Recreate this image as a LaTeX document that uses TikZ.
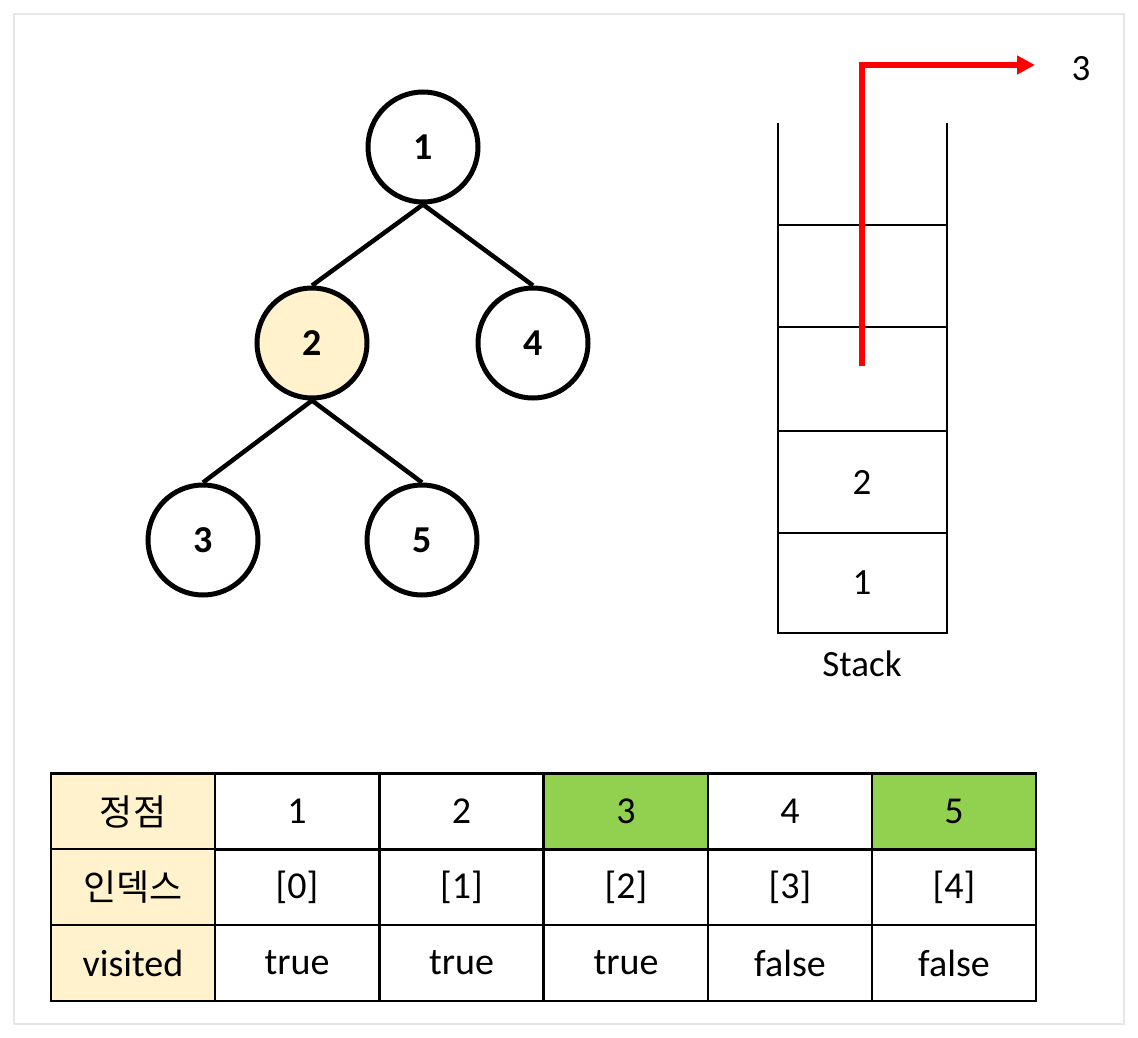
\documentclass[tikz,border=0pt]{standalone}
\usepackage{fontspec}
\setmainfont{Carlito}
\newfontfamily\krfont{Noto Sans CJK KR}
\usetikzlibrary{arrows.meta}
\definecolor{paleyel}{HTML}{FFF2CC}
\definecolor{cellgreen}{HTML}{92D050}
\definecolor{arrowred}{HTML}{FF0000}
\definecolor{cardedge}{HTML}{E6E6E6}
\tikzset{
  vert/.style={circle,draw=black,line width=5pt,fill=white,minimum size=110pt,inner sep=0pt,font=\fontsize{38}{42}\selectfont\bfseries},
  edge/.style={line width=4.5pt,black},
  cell/.style={rectangle,draw=black,line width=2.5pt,minimum width=164.3pt,minimum height=75.7pt,inner sep=0pt,font=\fontsize{38}{42}\selectfont},
  hcell/.style={cell,fill=paleyel},
  gcell/.style={cell,fill=cellgreen},
  stk/.style={line width=2pt,black},
  lbl/.style={inner sep=0pt,font=\fontsize{37}{41}\selectfont},
}
\begin{document}
\begin{tikzpicture}[x=1pt,y=-1pt]
\useasboundingbox (0,0) rectangle (1138,1038);
\fill[white] (0,0) rectangle (1138,1038);
\draw[cardedge,line width=2.5pt,fill=white] (14,14) rectangle (1124,1024);

% tree
\node[vert] (n1) at (423,147) {1};
\node[vert,fill=paleyel] (n2) at (312,343) {2};
\node[vert] (n4) at (533,343) {4};
\node[vert] (n3) at (203,540) {3};
\node[vert] (n5) at (422,540) {5};
\draw[edge] (n1.south) -- (n2.north);
\draw[edge] (n1.south) -- (n4.north);
\draw[edge] (n2.south) -- (n3.north);
\draw[edge] (n2.south) -- (n5.north);

% stack
\draw[stk] (778,123) -- (778,633) -- (947,633) -- (947,123);
\draw[stk] (778,225) -- (947,225);
\draw[stk] (778,327) -- (947,327);
\draw[stk] (778,431) -- (947,431);
\draw[stk] (778,533) -- (947,533);
\node[lbl] (s2) at (862,482) {2};
\node[lbl] (s1) at (862,583) {1};
\node[lbl] (stacklbl) at (862,664) {Stack};

% red pop arrow
\coordinate (rs) at (862,366);
\coordinate (rt) at (1035,65);
\draw[arrowred,line width=6pt,-{Triangle[length=18pt,width=18pt]}] (rs) |- (rt);
\node[lbl] (r3) at (1081,69) {3};

% table
\node[hcell,font=\fontsize{36}{40}\selectfont\krfont] (h1) at (133,811.5) {정점};
\node[hcell,font=\fontsize{36}{40}\selectfont\krfont] (h2) at (133,887) {인덱스};
\node[hcell] (h3) at (133,963) {visited};

\node[cell]  (a1) at (297,811.5) {1};
\node[cell]  (a2) at (461.5,811.5) {2};
\node[gcell] (a3) at (626,811.5) {3};
\node[cell]  (a4) at (790,811.5) {4};
\node[gcell] (a5) at (954,811.5) {5};

\node[cell] (b1) at (297,887) {[0]};
\node[cell] (b2) at (461.5,887) {[1]};
\node[cell] (b3) at (626,887) {[2]};
\node[cell] (b4) at (790,887) {[3]};
\node[cell] (b5) at (954,887) {[4]};

\node[cell] (c1) at (297,963) {true};
\node[cell] (c2) at (461.5,963) {true};
\node[cell] (c3) at (626,963) {true};
\node[cell] (c4) at (790,963) {false};
\node[cell] (c5) at (954,963) {false};
\end{tikzpicture}
\end{document}
